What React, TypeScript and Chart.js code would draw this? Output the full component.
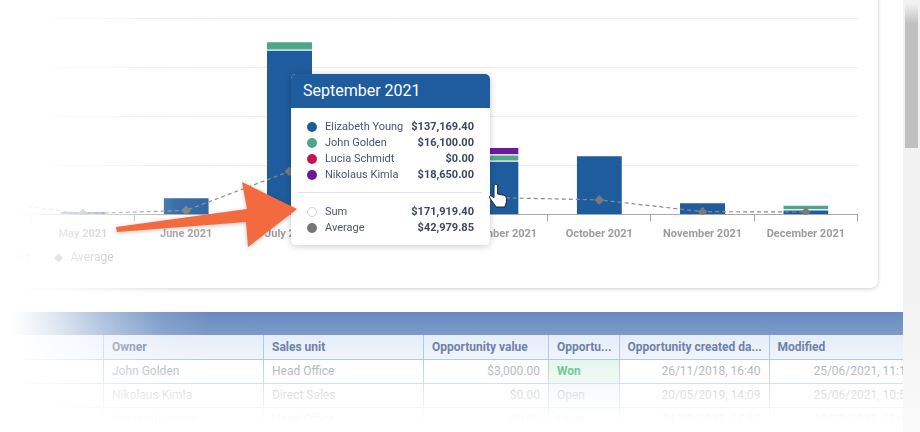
import { useEffect, useRef } from "react"
import { Chart, registerables } from "chart.js"

Chart.register(...registerables)

const months = ["April 2021", "May 2021", "June 2021", "July 2021", "August 2021", "September 2021", "October 2021", "November 2021", "December 2021"]
const elizabeth = [148000, 9000, 44000, 420000, 120000, 137169.4, 151000, 31000, 13000]
const john = [0, 0, 0, 22000, 0, 16100, 0, 0, 12000]
const lucia = [0, 0, 0, 0, 0, 0, 0, 0, 0]
const nikolaus = [0, 0, 0, 0, 0, 18650, 0, 0, 0]
const average = [37000, 2250, 10500, 110000, 30000, 42979.85, 37300, 7300, 6250]

const tooltipRows = [
  { name: "Elizabeth Young", value: "$137,169.40", color: "#1f5c9e" },
  { name: "John Golden", value: "$16,100.00", color: "#4ea888" },
  { name: "Lucia Schmidt", value: "$0.00", color: "#c4174f" },
  { name: "Nikolaus Kimla", value: "$18,650.00", color: "#6a1b9a" },
]
const tooltipTotals = [
  { name: "Sum", value: "$171,919.40", color: "#ffffff" },
  { name: "Average", value: "$42,979.85", color: "#757575" },
]

const tableHead = ["", "Owner", "Sales unit", "Opportunity value", "Opportu...", "Opportunity created da...", "Modified"]
const tableRows = [
  ["", "John Golden", "Head Office", "$3,000.00", "Won", "26/11/2018, 16:40", "25/06/2021, 11:15"],
  ["", "Nikolaus Kimla", "Direct Sales", "$0.00", "Open", "20/05/2019, 14:09", "25/06/2021, 10:55"],
  ["", "Elizabeth Young", "Head Office", "$0.00", "Open", "24/02/2021, 14:54", "10/11/2021, 15:45"],
]
const colWidths = [103, 160, 160, 125, 70.5, 150, 152]
const rightAligned = [3, 5, 6]

const barStyle = {
  type: "bar" as const,
  stack: "total",
  order: 1,
  borderColor: "#ffffff",
  borderWidth: { top: 1, left: 0, right: 0, bottom: 0 },
  borderSkipped: false,
  barPercentage: 0.437,
  categoryPercentage: 1,
}

// the x axis clips its labels to its own box, so the legend is lifted into that box afterwards
const liftLegend = {
  id: "liftLegend",
  afterLayout(chart: any) {
    chart.legend.top -= 12
    chart.legend.bottom -= 12
  },
}

function SalesChart() {
  const canvasRef = useRef<HTMLCanvasElement>(null)

  useEffect(() => {
    if (!canvasRef.current) return

    const chart = new Chart(canvasRef.current, {
      type: "bar",
      plugins: [liftLegend],
      data: {
        labels: months,
        datasets: [
          { ...barStyle, label: "Elizabeth Young", data: elizabeth, backgroundColor: "#1f5c9e" },
          { ...barStyle, label: "John Golden", data: john, backgroundColor: "#4ea888" },
          { ...barStyle, label: "Lucia Schmidt", data: lucia, backgroundColor: "#c4174f" },
          { ...barStyle, label: "Nikolaus Kimla", data: nikolaus, backgroundColor: "#6a1b9a" },
          {
            type: "line",
            label: "Average",
            data: average,
            order: 0,
            borderColor: "#8a8a8a",
            borderWidth: 1.2,
            borderDash: [4, 3],
            pointStyle: "rectRot",
            pointRadius: 4,
            pointBackgroundColor: "#7a7a7a",
            pointBorderColor: "#7a7a7a",
            tension: 0,
          },
        ],
      } as any,
      options: {
        responsive: false,
        animation: false,
        layout: { padding: { top: 18.5, right: 30.5, left: 0, bottom: 0 } },
        scales: {
          x: {
            stacked: true,
            afterFit: (scale: any) => {
              scale.height = 27.5
            },
            border: { color: "#a8a8a8" },
            grid: { drawOnChartArea: false, tickLength: 7, color: "#a8a8a8" },
            ticks: {
              color: "#9c9c9c",
              maxRotation: 0,
              autoSkip: false,
              padding: 6,
              font: { family: "Roboto", size: 11, weight: "bold" },
            },
          },
          y: {
            stacked: true,
            min: 0,
            max: 500000,
            afterFit: (scale: any) => {
              scale.width = 366
            },
            border: { display: false },
            grid: { color: "#ececec", drawTicks: false },
            ticks: { display: false, stepSize: 125000 },
          },
        },
        plugins: {
          tooltip: { enabled: false },
          legend: {
            position: "bottom",
            align: "start",
            labels: {
              usePointStyle: true,
              boxHeight: 5,
              padding: 22,
              color: "#9a9a9a",
              font: { family: "Roboto", size: 12 },
              sort: (a: any, b: any) => a.datasetIndex - b.datasetIndex,
            },
          },
        },
      },
    } as any)

    return () => {
      chart.destroy()
    }
  }, [])

  return <canvas ref={canvasRef} width={1326} height={286} style={{ position: "absolute", left: -438, top: 0 }} />
}

function TooltipRow({ row, top }: { row: { name: string; value: string; color: string }; top: number }) {
  return (
    <div style={{ position: "absolute", left: 0, top, width: 199, height: 16, lineHeight: "16px", fontSize: 11 }}>
      <span
        style={{
          position: "absolute",
          left: 16,
          top: 3,
          width: 10,
          height: 10,
          borderRadius: 5,
          boxSizing: "border-box",
          background: row.color,
          border: row.color === "#ffffff" ? "1px solid #d5d5d5" : "none",
        }}
      />
      <span style={{ position: "absolute", left: 34, color: "#4d5670" }}>{row.name}</span>
      <span style={{ position: "absolute", right: 16, color: "#3d4664", fontWeight: 700 }}>{row.value}</span>
    </div>
  )
}

function ChartTooltip() {
  return (
    <div
      style={{
        position: "absolute",
        left: 291,
        top: 74,
        width: 199,
        height: 171,
        background: "#fff",
        borderRadius: 5,
        boxShadow: "0 1px 7px rgba(0,0,0,.22)",
      }}
    >
      <div
        style={{
          height: 34,
          lineHeight: "34px",
          paddingLeft: 12,
          color: "#fff",
          fontSize: 16,
          background: "#1f5c9e",
          borderRadius: "5px 5px 0 0",
        }}
      >
        September 2021
      </div>
      {tooltipRows.map((row, i) => (
        <TooltipRow key={row.name} row={row} top={44.5 + i * 16} />
      ))}
      <div style={{ position: "absolute", left: 7, top: 118, width: 184, height: 1, background: "#dde2ee" }} />
      {tooltipTotals.map((row, i) => (
        <TooltipRow key={row.name} row={row} top={129.5 + i * 16} />
      ))}
    </div>
  )
}

function DataTable() {
  return (
    <div style={{ position: "absolute", left: 0, top: 312, width: 903, height: 120, overflow: "hidden" }}>
      <div style={{ height: 23, background: "linear-gradient(#6a8bbf, #7b9bc9)" }} />
      <table style={{ borderCollapse: "collapse", tableLayout: "fixed", width: 920.5, fontSize: 12 }}>
        <colgroup>
          {colWidths.map((w, i) => (
            <col key={i} style={{ width: w }} />
          ))}
        </colgroup>
        <tbody>
          <tr style={{ height: 24, background: "linear-gradient(#e6edf8, #f0f4fb)" }}>
            {tableHead.map((h, i) => (
              <td key={i} style={{ ...cellStyle, color: "#6e82a8", fontWeight: 700 }}>
                {h}
              </td>
            ))}
          </tr>
          {tableRows.map((row, r) => (
            <tr key={r} style={{ height: 24 }}>
              {row.map((c, i) => (
                <td
                  key={i}
                  style={{
                    ...cellStyle,
                    textAlign: rightAligned.includes(i) ? "right" : "left",
                    color: c === "Won" ? "#56b585" : "#a3abb5",
                    fontWeight: c === "Won" ? 700 : 400,
                    background: i === 4 ? (r === 0 ? "#e6f7ec" : "#f0f6f6") : "transparent",
                  }}
                >
                  {c}
                </td>
              ))}
            </tr>
          ))}
        </tbody>
      </table>
    </div>
  )
}

const cellStyle = {
  padding: "0 8px",
  border: "1px solid #b5c9e2",
  borderTop: "none",
  whiteSpace: "nowrap" as const,
  overflow: "hidden",
  height: 23,
}

export default function App() {
  return (
    <div
      style={{
        position: "fixed",
        left: 0,
        top: 0,
        width: 920,
        height: 432,
        overflow: "hidden",
        background: "#fff",
        fontFamily: "Roboto",
      }}
    >
      {/* page scrollbar */}
      <div
        style={{
          position: "absolute",
          left: 903,
          top: 0,
          width: 17,
          height: 432,
          background: "linear-gradient(#f2f2f2 70%, #fafafa)",
        }}
      />
      <div
        style={{
          position: "absolute",
          left: 905,
          top: 4,
          width: 13,
          height: 144,
          background: "linear-gradient(#f0f0f0, #c0c0c0 14%)",
        }}
      />

      {/* card */}
      <div
        style={{
          position: "absolute",
          left: -30,
          top: -30,
          width: 908,
          height: 318,
          background: "#fff",
          borderRadius: 8,
          boxShadow: "0 1px 4px rgba(0,0,0,.2)",
        }}
      />
      <SalesChart />

      <DataTable />

      {/* fades over the left edge and the table bottom */}
      <div
        style={{
          position: "absolute",
          left: 0,
          top: 0,
          width: 270,
          height: 300,
          background:
            "linear-gradient(90deg, #fff 5%, rgba(255,255,255,.72) 30%, rgba(255,255,255,.12) 65%, rgba(255,255,255,0))",
        }}
      />
      <div
        style={{
          position: "absolute",
          left: 0,
          top: 300,
          width: 210,
          height: 132,
          background:
            "linear-gradient(90deg, #fff 6%, rgba(255,255,255,.8) 25%, rgba(255,255,255,.45) 50%, rgba(255,255,255,.15) 75%, rgba(255,255,255,0))",
        }}
      />
      <div
        style={{
          position: "absolute",
          left: 0,
          top: 359,
          width: 903,
          height: 73,
          background:
            "linear-gradient(rgba(255,255,255,0), rgba(255,255,255,.25) 20%, rgba(255,255,255,.6) 45%, rgba(255,255,255,.88) 70%, #fff 90%)",
        }}
      />

      <ChartTooltip />

      {/* callout arrow */}
      <svg width={920} height={432} style={{ position: "absolute", left: 0, top: 0, pointerEvents: "none" }}>
        <polygon
          points="116,227 247,209 242,182 297,209 248,247 246,222 117,232"
          fill="#f26a3e"
          style={{ filter: "drop-shadow(0 1px 2px rgba(0,0,0,.25))" }}
        />
        <path
          d="M494 186 a1.8 1.8 0 0 1 3.6 0 v8 l6 1.2 q2.8 .6 2.8 3 v3.8 l-1.6 5 h-8.6 l-6.4 -9 q-1 -2 .8 -2.4 l3.4 2 z"
          fill="#fff"
          stroke="#222"
          strokeWidth={1}
        />
      </svg>
    </div>
  )
}
